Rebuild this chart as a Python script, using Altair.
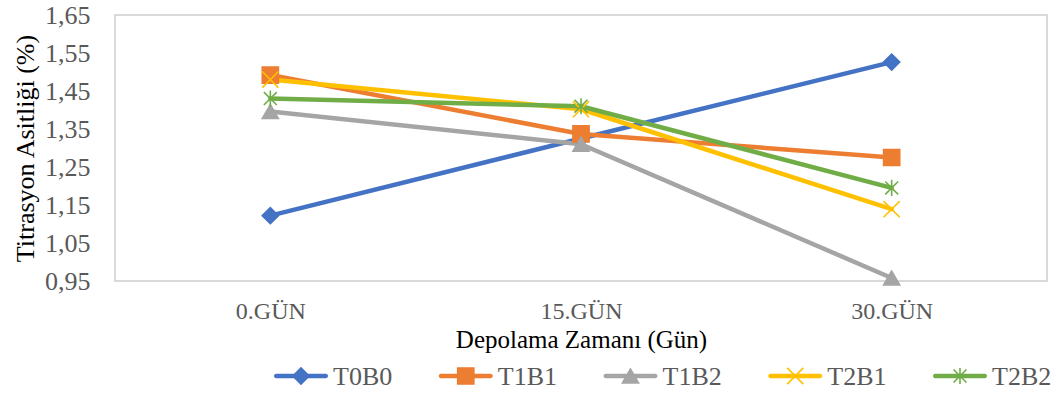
import altair as alt
import pandas as pd

days = ["0.GÜN", "15.GÜN", "30.GÜN"]
series = ["T0B0", "T1B1", "T1B2", "T2B1", "T2B2"]
T0B0 = [1.122, 1.325, 1.526]
T1B1 = [1.492, 1.337, 1.275]
T1B2 = [1.396, 1.310, 0.958]
T2B1 = [1.480, 1.402, 1.139]
T2B2 = [1.430, 1.410, 1.195]
y_ticks = [0.95, 1.05, 1.15, 1.25, 1.35, 1.45, 1.55, 1.65]

colors = ["#4472C4", "#ED7D31", "#A5A5A5", "#FFC000", "#70AD47"]
shapes = [
    "diamond",
    "square",
    "triangle-up",
    "M-1,-1L1,1M1,-1L-1,1",
    "M0,-1L0,1M-0.8,-0.8L0.8,0.8M0.8,-0.8L-0.8,0.8",
]

values = {"T0B0": T0B0, "T1B1": T1B1, "T1B2": T1B2, "T2B1": T2B1, "T2B2": T2B2}
rows = []
for s in series:
    for d, v in zip(days, values[s]):
        rows.append({"series": s, "day": d, "value": v})
df = pd.DataFrame(rows)

FONT = "'Liberation Serif', 'Times New Roman', 'DejaVu Serif', serif"
color_scale = alt.Scale(domain=series, range=colors)
shape_scale = alt.Scale(domain=series, range=shapes)

x_enc = alt.X(
    "day:N",
    sort=days,
    scale=alt.Scale(type="point", padding=0.5),
    axis=alt.Axis(
        title="Depolama Zamanı (Gün)",
        labelFont=FONT, labelFontSize=24, labelColor="#595959",
        labelAngle=0, labelPadding=18, ticks=False, tickSize=0,
        domain=False, grid=False,
        titleFont=FONT, titleFontSize=25, titleColor="#000000",
        titleFontWeight="normal", titleBaseline="top", titleY=46,
    ),
)
y_enc = alt.Y(
    "value:Q",
    scale=alt.Scale(domain=[0.95, 1.65], nice=False, zero=False),
    axis=alt.Axis(
        title="Titrasyon Asitliği (%)",
        values=y_ticks,
        labelExpr="replace(format(datum.value, '.2f'), '.', ',')",
        labelFont=FONT, labelFontSize=26, labelColor="#595959",
        labelPadding=25, ticks=False, tickSize=0, domain=False, grid=False,
        titleFont=FONT, titleFontSize=26, titleColor="#000000",
        titleFontWeight="normal", titlePadding=6,
    ),
)

base = alt.Chart(df).encode(x=x_enc, y=y_enc)
lines = base.mark_line(strokeWidth=4.5, strokeCap="round", strokeJoin="round").encode(
    color=alt.Color("series:N", scale=color_scale, legend=None),
    detail="series:N",
)
points = base.mark_point(filled=True, opacity=1, size=260, strokeWidth=1.6).encode(
    color=alt.Color("series:N", scale=color_scale, legend=None),
    stroke=alt.Stroke("series:N", scale=color_scale, legend=None),
    shape=alt.Shape("series:N", scale=shape_scale, legend=None),
)
main = alt.layer(lines, points)

leg_df = pd.DataFrame({"series": series})
leg_x = alt.X(
    "series:N",
    sort=series,
    scale=alt.Scale(type="point", domain=series, range=[186, 845], padding=0),
    axis=None,
)
leg_base = alt.Chart(leg_df).encode(x=leg_x, y=alt.value(361))
leg_line = leg_base.mark_tick(
    orient="horizontal", size=54, thickness=4.5, cornerRadius=2.2, opacity=1
).encode(color=alt.Color("series:N", scale=color_scale, legend=None))
leg_pts = leg_base.mark_point(filled=True, opacity=1, size=260, strokeWidth=1.6).encode(
    color=alt.Color("series:N", scale=color_scale, legend=None),
    stroke=alt.Stroke("series:N", scale=color_scale, legend=None),
    shape=alt.Shape("series:N", scale=shape_scale, legend=None),
)
leg_text = leg_base.mark_text(
    align="left", baseline="middle", dx=32, dy=1, font=FONT, fontSize=26, color="#595959"
).encode(text="series:N")
legend = alt.layer(leg_line, leg_pts, leg_text)

chart = (
    alt.layer(main, legend)
    .resolve_scale(x="independent")
    .properties(
        width=932,
        height=266,
        padding={"left": 115, "top": 15, "right": 12, "bottom": 115},
        autosize=alt.AutoSizeParams(type="none"),
        background="white",
    )
    .configure_view(stroke="#D9D9D9", strokeWidth=2)
)

chart.save("out.html", embed_options={"renderer": "svg", "actions": False})
